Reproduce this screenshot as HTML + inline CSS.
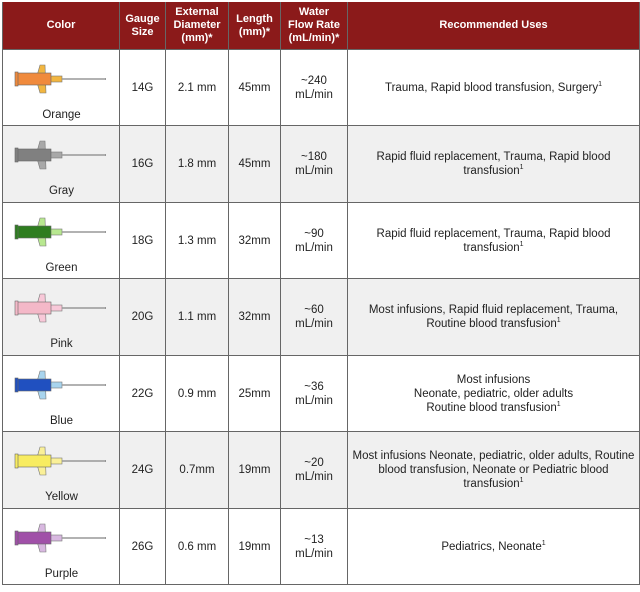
<!DOCTYPE html>
<html><head><meta charset="utf-8"><style>
body{margin:0;width:640px;height:592px;background:#fff;font-family:"Liberation Sans",sans-serif;position:relative;overflow:hidden}
.c{position:absolute;box-sizing:border-box;border-right:1px solid #666;border-bottom:1px solid #666;display:flex;align-items:center;justify-content:center;text-align:center;font-size:11.5px;color:#222;line-height:14px}
.c span{white-space:nowrap}
.h{background:#8b1a1a;color:#fff;font-weight:bold;font-size:11px;line-height:13px}
sup{font-size:7px;line-height:0;vertical-align:super}
.lbl{position:absolute;font-size:11.5px;color:#222;width:117px;text-align:center}
</style></head><body>
<div id="t"></div>
<script>
const names=['Orange','Gray','Green','Pink','Blue','Yellow','Purple'];
const gauges=['14G','16G','18G','20G','22G','24G','26G'];
const diam=['2.1 mm','1.8 mm','1.3 mm','1.1 mm','0.9 mm','0.7mm','0.6 mm'];
const len=['45mm','45mm','32mm','32mm','25mm','19mm','19mm'];
const flow=['~240','~180','~90','~60','~36','~20','~13'];
const uses=['Trauma, Rapid blood transfusion, Surgery<sup>1</sup>','Rapid fluid replacement, Trauma, Rapid blood<br>transfusion<sup>1</sup>','Rapid fluid replacement, Trauma, Rapid blood<br>transfusion<sup>1</sup>','Most infusions, Rapid fluid replacement, Trauma,<br>Routine blood transfusion<sup>1</sup>','Most infusions<br>Neonate, pediatric, older adults<br>Routine blood transfusion<sup>1</sup>','Most infusions Neonate, pediatric, older adults, Routine<br>blood transfusion, Neonate or Pediatric blood<br>transfusion<sup>1</sup>','Pediatrics, Neonate<sup>1</sup>'];
const hubC=['#f08a3c','#808080','#2e7d1f','#f4b8c8','#2050c0','#f8ec60','#a050a8'];
const wingC=['#f2b640','#a8a8a8','#b8e890','#f8c8d8','#a8d4ee','#faf098','#d8b8e0'];
const cols=[3,120,166,229,281,348,640];
const rows=[2,50,126,203,279,356,432,509,585];
const T=document.getElementById('t');
function cell(x1,x2,y1,y2,html,cls,bg){const d=document.createElement('div');d.className='c '+cls;
d.style.cssText=`left:${x1}px;top:${y1}px;width:${x2-x1}px;height:${y2-y1}px;`+(bg?`background:${bg};`:'');d.innerHTML='<span>'+html+'</span>';T.appendChild(d);return d;}
const heads=['Color','Gauge<br>Size','External<br>Diameter<br>(mm)*','Length<br>(mm)*','Water<br>Flow Rate<br>(mL/min)*','Recommended Uses'];
heads.forEach((h,i)=>{const d=cell(cols[i],cols[i+1],rows[0],rows[1],h,'h');

});
names.forEach((n,r)=>{const y1=rows[r+1],y2=rows[r+2];const bg=r%2?'#f0f0f0':'#fff';
const vals=['',gauges[r],diam[r],len[r],flow[r]+'<br>mL/min',uses[r]];
vals.forEach((v,i)=>{const d=cell(cols[i],cols[i+1],y1,y2,v,'',bg);

});
const cy=y1+29;
const svg=`<svg style="position:absolute;left:0;top:0" width="640" height="592">
<polygon points="40,${cy-14} 45,${cy-14} 46,${cy+14} 40,${cy+14} 36,${cy}" fill="${wingC[r]}" stroke="#777" stroke-width="0.6"/>
<rect x="50" y="${cy-3}" width="12" height="6" fill="${wingC[r]}" stroke="#777" stroke-width="0.6"/>
<line x1="62" y1="${cy}" x2="106" y2="${cy}" stroke="#777" stroke-width="1.6"/>
<line x1="62" y1="${cy}" x2="105" y2="${cy}" stroke="#ddd" stroke-width="0.6"/>
<rect x="17" y="${cy-6}" width="34" height="12" fill="${hubC[r]}" stroke="#666" stroke-width="0.6"/>
<rect x="15" y="${cy-7}" width="3" height="14" fill="${hubC[r]}" stroke="#666" stroke-width="0.6"/></svg>`;
const w=document.createElement('div');w.innerHTML=svg;const s=w.firstChild;


T.appendChild(s);
const l=document.createElement('div');l.className='lbl';l.style.left='3px';l.style.top=(y1+59)+'px';l.textContent=n;


T.appendChild(l);});
const border=document.createElement('div');border.style.cssText='position:absolute;left:2px;top:2px;width:1px;height:583px;background:#666';


T.appendChild(border);
</script>
</body></html>
